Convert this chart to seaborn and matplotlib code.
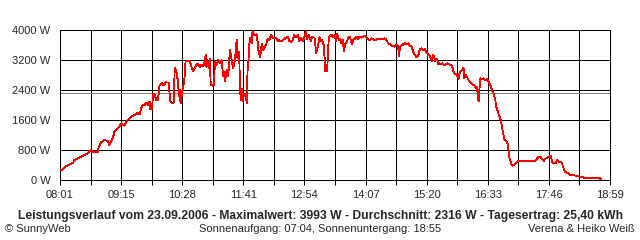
import numpy as np
import pandas as pd
import matplotlib
matplotlib.use("Agg")
import matplotlib.pyplot as plt
import seaborn as sns

# ---- data ----
start_label = "08:01"
# minutes after 08:01
minutes = [1, 6, 10, 16, 17, 21, 25, 30, 33, 35, 37, 39, 45, 46, 49, 53, 57, 59, 61, 63,
           65, 67, 71, 73, 77, 79, 83, 87, 91, 93, 95, 97, 99, 101, 103, 105, 107,
           108, 110, 111, 113, 115, 117, 119, 122, 124, 126, 130, 131, 132, 135, 136, 137,
           139, 141, 142, 143, 144, 146, 148, 149, 150, 155, 157, 159, 161, 163, 165, 167,
           169, 171, 173, 174, 175, 176, 178, 179, 180, 182, 184, 185, 187, 189, 191, 193,
           195, 196, 197, 199, 201, 202, 203, 205, 207, 209, 211, 212, 214, 215,
           216, 217, 218, 220, 221, 222, 223, 224, 225, 226, 227, 229, 230, 232, 235, 236,
           237, 239, 240, 241, 243, 244, 247, 248, 250, 252, 254, 256, 258, 260, 262, 264,
           266, 268, 270, 272, 274, 276, 278, 280, 282, 284, 286, 288, 290, 292, 294, 295,
           297, 300, 301, 304, 305, 306, 308, 310, 311, 313, 315, 316, 317, 319, 320, 321,
           322, 324, 326, 328, 330, 331, 333, 335, 336, 338, 339, 341, 343, 344, 346, 347,
           349, 350, 352, 354, 356, 358, 360, 364, 366, 368, 370, 372, 376, 380, 384, 388,
           390, 392, 394, 396, 398, 400, 402, 404, 405, 406, 408, 410, 412, 414, 416, 418,
           420, 422, 424, 426, 428, 430,
           432, 434, 436, 437, 440, 442, 443, 444, 445, 446, 448, 450, 452, 454, 455, 457,
           459, 461, 463, 465, 467, 469, 470, 472, 474, 476, 477, 478, 480, 482, 483, 484,
           486, 487, 489, 491, 493, 495, 496, 498, 499, 500, 501, 502, 504, 506, 508, 510,
           512, 514, 516, 518, 520, 521, 524, 527, 529, 531, 534, 535, 537, 538, 539,
           540, 542, 544, 546, 548, 552, 556, 558, 562, 564, 566, 568, 570, 572, 574, 576,
           578, 579, 581, 584, 586, 587, 588, 590, 592, 594, 595, 597, 599, 601, 603, 607,
           609, 613, 617, 621, 623, 625, 629, 637, 645, 646]
power = [248, 355, 400, 470, 533, 578, 622, 667, 711, 773, 800, 738, 738, 862, 1004, 1067,
         1040, 933, 1022, 1111, 1289, 1333, 1422, 1511, 1449, 1556, 1644, 1716, 1751, 1804,
         1751, 1911, 2018, 1982, 2071, 2000, 2089,
         1893, 1893, 2293, 2267, 2133, 2133, 2533, 2596, 2516, 2604, 2596, 2267, 2089, 2044,
         2089, 2995, 2889, 2622, 2222, 2400, 2044, 2355, 2578, 2800, 3173, 3173, 3022, 2889,
         2995, 3067, 3111, 2995, 3067, 3022, 3173, 3351, 2995, 3200, 2978, 3227, 2533, 2516,
         2533, 3155, 3067, 3200, 3111, 3200, 2755, 2889, 2622, 2933, 2755, 3155, 3467, 3200,
         2978, 3200, 3733, 3244, 3422, 2444,
         2133, 2444, 2107, 2311, 2222, 2311, 2044, 2889, 3155, 3600, 3795, 3644, 3973, 3867,
         3884, 3689, 3467, 3262, 3440, 3644, 3467, 3511, 3671, 3778, 3733, 3867, 3795, 3795,
         3795, 3707, 3733, 3689, 3733, 3760, 3795, 3822, 3707, 3689, 3733, 3867, 3795, 3867,
         3707, 3795, 3689, 3822, 3973, 3760, 3867, 3707, 3822, 3795, 3600, 3378, 3555, 3822,
         3689, 3733, 3600, 3289, 2907, 2907, 3289, 3778,
         3822, 3884, 3795, 3867, 3707, 3911, 3733, 3778, 3644, 3733, 3440, 3644, 3689, 3778,
         3822, 3760, 3618, 3733, 3760, 3822, 3760, 3822, 3795, 3840, 3795, 3760, 3733, 3778,
         3733, 3760, 3760, 3778, 3733, 3644, 3618, 3582, 3582, 3555, 3618, 3555, 3289, 3555,
         3582, 3618, 3644, 3618, 3644, 3582, 3555, 3422, 3333, 3262, 3333, 3493,
         3511, 3467, 3493, 3422, 3333, 3315, 3244, 3173, 3289, 3333, 3173, 3244, 3084, 3111,
         3084, 3111, 3067, 3084, 3111, 3084, 3067, 2995, 2889, 2818, 2818, 2693, 2818, 2889,
         2933, 2995, 2711, 2818, 2755, 2711, 2622, 2578, 2533, 2533, 2462, 2489, 2267, 2089,
         2400, 2711, 2693, 2711, 2666, 2693, 2622, 2533, 2400, 2311, 2133, 1956, 1751, 1556,
         1289, 1067, 1022, 933, 578, 533, 418,
         382, 400, 444, 489, 507, 507, 507, 515, 515, 507, 498, 507, 578, 622, 622, 560, 507,
         560, 578, 622, 649, 578, 471, 444, 444, 533, 507, 471, 471, 355, 222, 178, 133, 133,
         111, 89, 89, 67, 44, 44, 44, 18]

x_tick_labels = ["08:01", "09:15", "10:28", "11:41", "12:54", "14:07",
                 "15:20", "16:33", "17:46", "18:59"]
y_ticks = [0, 800, 1600, 2400, 3200, 4000]
y_tick_labels = ["0 W", "800 W", "1600 W", "2400 W", "3200 W", "4000 W"]
average_w = 2316
span_minutes = 657

title_text = ("Leistungsverlauf vom 23.09.2006 - Maximalwert: 3993 W - "
              "Durchschnitt: 2316 W - Tagesertrag: 25,40 kWh")
left_text = "\u00a9 SunnyWeb"
center_text = "Sonnenaufgang: 07:04, Sonnenuntergang: 18:55"
right_text = "Verena & Heiko Weiß"

df = pd.DataFrame({"t": minutes, "P": power})

# ---- plot ----
sns.set_style("white")
plt.rcParams["font.family"] = ["Liberation Sans", "DejaVu Sans"]

LW = 0.72  # one pixel

fig = plt.figure(figsize=(6.4, 2.4), dpi=100)
fig.patch.set_facecolor("white")
ax = fig.add_axes([60 / 640, 1 - 180 / 240, 550 / 640, 150 / 240])

xt = np.linspace(0, span_minutes, 19)
for xv in xt:
    ax.axvline(xv, color="black", lw=LW, zorder=1, antialiased=False)
for yv in y_ticks:
    ax.axhline(yv, color="black", lw=LW, zorder=1, antialiased=False)
ax.axhline(average_w, color="#808080", lw=LW, zorder=1.5, antialiased=False)

n_before = len(ax.lines)
sns.lineplot(data=df, x="t", y="P", ax=ax, color="#ff0000", linewidth=LW,
             estimator=None, sort=False, zorder=3)
for ln in ax.lines[n_before:]:
    ln.set_linewidth(0.6)
    ln.set_antialiased(False)
    ln.set_solid_joinstyle("miter")
    ln.set_solid_capstyle("butt")

ax.set_xlim(0, span_minutes)
ax.set_ylim(0, 4000)
ax.set_xticks(xt)
labels = []
for i in range(19):
    labels.append(x_tick_labels[i // 2] if i % 2 == 0 else "")
ax.set_xticklabels(labels, fontsize=8)
ax.set_yticks(y_ticks)
ax.set_yticklabels(y_tick_labels, fontsize=8)
ax.tick_params(axis="x", length=3.5, width=LW, color="black", pad=4, direction="out",
               bottom=True)
ax.tick_params(axis="y", length=0, pad=7, left=True)
ax.set_xlabel("")
ax.set_ylabel("")
for s in ax.spines.values():
    s.set_color("black")
    s.set_linewidth(LW)
    s.set_visible(True)
    s.set_antialiased(False)

fig.text(320 / 640, 1 - 216 / 240, title_text, ha="center", va="center",
         fontsize=8.7, fontweight="bold")
fig.text(5 / 640, 1 - 229 / 240, left_text, ha="left", va="center", fontsize=8)
fig.text(320 / 640, 1 - 229 / 240, center_text, ha="center", va="center", fontsize=8)
fig.text(635 / 640, 1 - 229 / 240, right_text, ha="right", va="center", fontsize=8)

fig.savefig("out.png", dpi=100, facecolor="white")
